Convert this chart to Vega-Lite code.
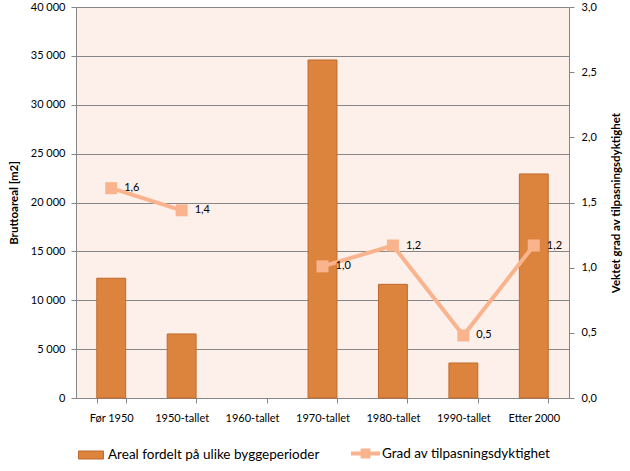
{
  "$schema": "https://vega.github.io/schema/vega-lite/v6.json",
  "autosize": "none",
  "width": 493,
  "height": 391,
  "padding": {"left": 76, "top": 7, "right": 61, "bottom": 73},
  "background": "white",
  "config": {
    "font": "Lato",
    "view": {"stroke": null, "fill": "#FDEFEA"},
    "locale": {"number": {"decimal": ",", "thousands": " ", "grouping": [3], "currency": ["", ""]}},
    "axis": {"labelFont": "Lato", "labelFontSize": 11, "labelColor": "#000000", "titleFont": "Lato", "titleFontSize": 11.5, "titleFontWeight": "bold", "titleColor": "#000000", "domainColor": "#868686", "tickColor": "#868686", "gridColor": "#868686", "tickSize": 5},
    "legend": {"labelFont": "Lato", "labelFontSize": 13.5, "labelColor": "#000000", "labelLimit": 0}
  },
  "data": {"values": [
    {"periode": "Før 1950", "areal": 12250, "grad": 1.61},
    {"periode": "1950-tallet", "areal": 6550, "grad": 1.44},
    {"periode": "1960-tallet", "areal": null, "grad": null},
    {"periode": "1970-tallet", "areal": 34580, "grad": 1.01},
    {"periode": "1980-tallet", "areal": 11630, "grad": 1.17},
    {"periode": "1990-tallet", "areal": 3580, "grad": 0.48},
    {"periode": "Etter 2000", "areal": 22920, "grad": 1.17}
  ]},
  "encoding": {
    "x": {"field": "periode", "type": "nominal", "sort": null,
      "scale": {"domain": ["Før 1950", "1950-tallet", "1960-tallet", "1970-tallet", "1980-tallet", "1990-tallet", "Etter 2000"], "paddingInner": 0.59, "paddingOuter": 0.295},
      "axis": {"title": null, "labelAngle": 0, "tickBand": "extent", "labelPadding": 9, "domainColor": "#868686"}}
  },
  "layer": [
    {
      "mark": {"type": "bar", "stroke": "#C0692A", "strokeWidth": 1},
      "encoding": {
        "y": {"field": "areal", "type": "quantitative",
          "scale": {"domain": [0, 40000], "nice": false},
          "axis": {"title": "Bruttoareal [m2]", "values": [0, 5000, 10000, 15000, 20000, 25000, 30000, 35000, 40000], "format": ",.0f", "grid": true, "labelPadding": 6, "titlePadding": 11}},
        "fill": {"datum": "Areal fordelt på ulike byggeperioder", "type": "nominal",
          "scale": {"range": ["#DC843E"]},
          "legend": {"title": null, "orient": "none", "legendX": 2, "legendY": 435,
            "symbolType": "M-1,-0.32H1V0.32H-1Z", "symbolSize": 625,
            "symbolStrokeColor": "#C0692A", "symbolStrokeWidth": 1, "labelOffset": 4}}
      }
    },
    {
      "encoding": {
        "y": {"field": "grad", "type": "quantitative",
          "scale": {"domain": [0, 3], "nice": false},
          "axis": {"title": "Vektet grad av tilpasningsdyktighet", "orient": "right", "values": [0, 0.5, 1, 1.5, 2, 2.5, 3], "format": ".1f", "grid": false, "labelPadding": 7, "titlePadding": 25, "titleAngle": 270}}
      },
      "layer": [
        {
          "mark": {"type": "line", "strokeWidth": 4, "invalid": "break-paths-show-domains"},
          "encoding": {
            "stroke": {"datum": "Grad av tilpasningsdyktighet", "type": "nominal",
              "scale": {"range": ["#F9B48E"]},
              "legend": {"title": null, "orient": "none", "legendX": 273, "legendY": 430,
                "symbolType": "M-1,0H1M-0.2,-0.2H0.2V0.2H-0.2Z", "symbolSize": 841,
                "symbolStrokeWidth": 4, "labelOffset": 0,
                "encode": {"symbols": {"update": {"fill": {"value": "#F9B48E"}}}}}}
          }
        },
        {
          "mark": {"type": "square", "size": 144, "color": "#F9B48E", "opacity": 1, "filled": true},
          "encoding": {}
        },
        {
          "mark": {"type": "text", "align": "left", "baseline": "middle", "dx": 13, "font": "Lato", "fontSize": 11, "color": "#000000"},
          "encoding": {
            "text": {"field": "grad", "type": "quantitative", "format": ".1f"}
          }
        }
      ]
    }
  ],
  "resolve": {"scale": {"y": "independent", "fill": "independent", "stroke": "independent"}}
}
